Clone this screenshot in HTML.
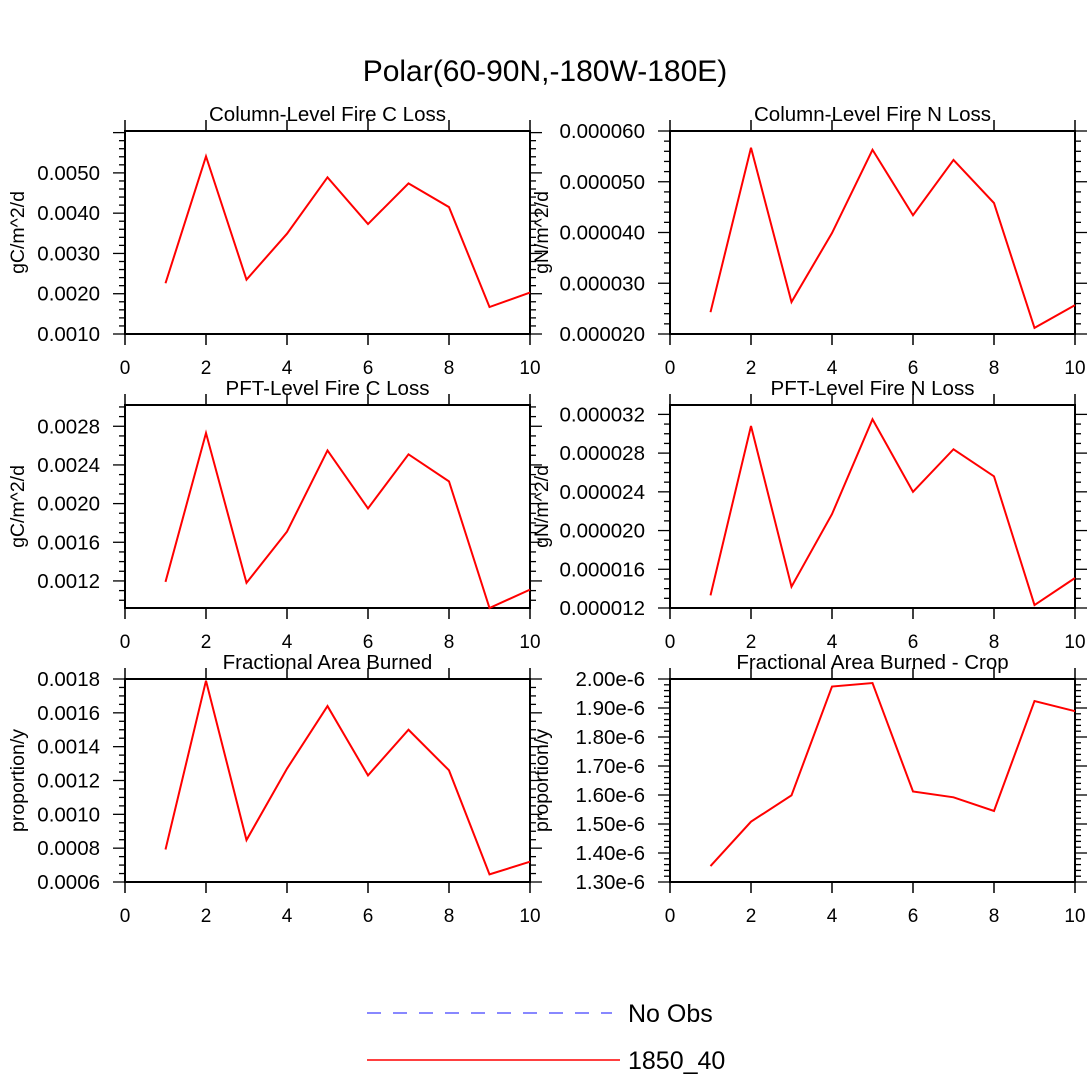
<!DOCTYPE html>
<html><head><meta charset="utf-8"><style>
html,body{margin:0;padding:0;background:#fff;}
svg{display:block;font-family:"Liberation Sans",sans-serif;}
</style></head><body>
<svg id="chart" width="1090" height="1092" viewBox="0 0 1090 1092" xmlns="http://www.w3.org/2000/svg">
<text x="545" y="81" font-size="30" text-anchor="middle">Polar(60-90N,-180W-180E)</text>
<g>
<line x1="367" y1="1013" x2="612" y2="1013" stroke="#4040ff" stroke-width="1.2" stroke-dasharray="14,12"/>
<text x="628" y="1022" font-size="25">No Obs</text>
<line x1="367" y1="1060" x2="620" y2="1060" stroke="#ff0000" stroke-width="1.5"/>
<text x="628" y="1069" font-size="25">1850_40</text>
</g>
</svg>
<script>
const xValues=[1,2,3,4,5,6,7,8,9,10];
const colCLoss=[0.00226,0.00541,0.00235,0.00349,0.00489,0.00373,0.00474,0.00415,0.00167,0.00203];
const colNLoss=[0.0000243,0.0000567,0.0000263,0.0000399,0.0000563,0.0000434,0.0000543,0.0000458,0.0000212,0.0000257];
const pftCLoss=[0.00119,0.00273,0.00118,0.00171,0.00255,0.00195,0.00251,0.00223,0.00092,0.00111];
const pftNLoss=[0.0000133,0.0000308,0.0000142,0.0000217,0.0000315,0.0000240,0.0000284,0.0000256,0.0000123,0.0000151];
const fracBurned=[0.000792,0.00179,0.000848,0.00127,0.00164,0.00123,0.00150,0.00126,0.000645,0.00072];
const fracBurnedCrop=[1.355e-6,1.508e-6,1.599e-6,1.974e-6,1.986e-6,1.612e-6,1.592e-6,1.545e-6,1.924e-6,1.889e-6];
const xTickLabels=["0","2","4","6","8","10"];
const tlColC=["0.0010","0.0020","0.0030","0.0040","0.0050"];
const tlColN=["0.000020","0.000030","0.000040","0.000050","0.000060"];
const tlPftC=["0.0012","0.0016","0.0020","0.0024","0.0028"];
const tlPftN=["0.000012","0.000016","0.000020","0.000024","0.000028","0.000032"];
const tlFrac=["0.0006","0.0008","0.0010","0.0012","0.0014","0.0016","0.0018"];
const tlCrop=["1.30e-6","1.40e-6","1.50e-6","1.60e-6","1.70e-6","1.80e-6","1.90e-6","2.00e-6"];

const NS="http://www.w3.org/2000/svg";
const svg=document.getElementById('chart');
function mk(tag,attrs,parent){const e=document.createElementNS(NS,tag);for(const k in attrs)e.setAttribute(k,attrs[k]);(parent||svg).appendChild(e);return e;}

const panels=[
 {name:'column-c-loss',title:'Column-Level Fire C Loss',ylab:'gC/m^2/d',x:125,y:131,data:colCLoss,ymin:0.001,ymax:0.00604,major:0.001,minorN:5,labels:tlColC},
 {name:'column-n-loss',title:'Column-Level Fire N Loss',ylab:'gN/m^2/d',x:670,y:131,data:colNLoss,ymin:0.00002,ymax:0.00006,major:0.00001,minorN:5,labels:tlColN},
 {name:'pft-c-loss',title:'PFT-Level Fire C Loss',ylab:'gC/m^2/d',x:125,y:405,data:pftCLoss,ymin:0.00092,ymax:0.00302,major:0.0004,minorN:4,labels:tlPftC,lab0:0.0012},
 {name:'pft-n-loss',title:'PFT-Level Fire N Loss',ylab:'gN/m^2/d',x:670,y:405,data:pftNLoss,ymin:0.000012,ymax:0.00003297,major:0.000004,minorN:4,labels:tlPftN},
 {name:'frac-burned',title:'Fractional Area Burned',ylab:'proportion/y',x:125,y:679,data:fracBurned,ymin:0.0006,ymax:0.0018,major:0.0002,minorN:4,labels:tlFrac},
 {name:'frac-burned-crop',title:'Fractional Area Burned - Crop',ylab:'proportion/y',x:670,y:679,data:fracBurnedCrop,ymin:1.3e-6,ymax:2.0e-6,major:0.1e-6,minorN:5,labels:tlCrop}
];
const W=405,H=203;
panels.forEach(p=>{
 const g=mk('g',{});
 
 
 const sx=v=>p.x+v/10*W;
 const sy=v=>p.y+H-(v-p.ymin)/(p.ymax-p.ymin)*H;
 const t=mk('text',{x:p.x+W/2,y:p.y-10,'font-size':20.5,'text-anchor':'middle'},g);
 t.textContent=p.title;
 
 
 for(let v=0;v<=10;v+=2){
  const X=sx(v),len=11;
  mk('line',{x1:X,y1:p.y+H,x2:X,y2:p.y+H+len,stroke:'#000','stroke-width':1.5},g);
  mk('line',{x1:X,y1:p.y,x2:X,y2:p.y-len,stroke:'#000','stroke-width':1.5},g);
  const tx=mk('text',{x:X,y:p.y+H+40,'font-size':19,'text-anchor':'middle'},g);tx.textContent=xTickLabels[v/2];
  
  
 }
 const start=p.lab0!==undefined?p.lab0:p.ymin;
 const minor=p.major/p.minorN;
 const k0=Math.ceil((p.ymin-start)/minor-1e-6);
 for(let k=k0;;k++){
  const v=start+k*minor; if(v>p.ymax+1e-12)break;
  const Y=sy(v),maj=(((k%p.minorN)+p.minorN)%p.minorN)===0,len=maj?12:6;
  mk('line',{x1:p.x,y1:Y,x2:p.x-len,y2:Y,stroke:'#000','stroke-width':1.3},g);
  mk('line',{x1:p.x+W,y1:Y,x2:p.x+W+len,y2:Y,stroke:'#000','stroke-width':1.3},g);
  if(maj&&k>=0){const idx=k/p.minorN;if(p.labels[idx]!==undefined){const ty=mk('text',{x:p.x-25,y:Y+7,'font-size':20.5,'text-anchor':'end'},g);ty.textContent=p.labels[idx];
   
   }}
 }
 mk('rect',{x:p.x,y:p.y,width:W,height:H,fill:'none',stroke:'#000','stroke-width':2},g);
 const yl=mk('text',{x:0,y:0,'font-size':19.5,'text-anchor':'middle',transform:`translate(${p.x===125?24:548},${p.y+H/2}) rotate(-90)`},g);
 yl.textContent=p.ylab;
 
 
 const pts=xValues.map((x,i)=>sx(x)+','+sy(p.data[i])).join(' ');
 const pl=mk('polyline',{points:pts,fill:'none',stroke:'#ff0000','stroke-width':2},g);
 
 
});
</script>
</body></html>
